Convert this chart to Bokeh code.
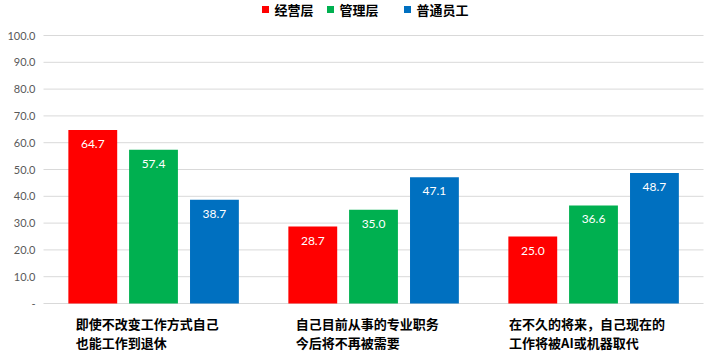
from bokeh.plotting import figure
from bokeh.models import ColumnDataSource, Range1d
from bokeh.transform import dodge
from bokeh.core.properties import value
from bokeh.embed import file_html
from bokeh.resources import INLINE

# ---- data ----
categories = [
    ["即使不改变工作方式自己", "也能工作到退休"],
    ["自己目前从事的专业职务", "今后将不再被需要"],
    ["在不久的将来，自己现在的", "工作将被AI或机器取代"],
]
series = ["经营层", "管理层", "普通员工"]
exec_vals = [64.7, 28.7, 25.0]
mgr_vals = [57.4, 35.0, 36.6]
staff_vals = [38.7, 47.1, 48.7]
colors = ["#FF0000", "#00B050", "#0070C0"]
y_ticks = [0, 10, 20, 30, 40, 50, 60, 70, 80, 90, 100]
y_tick_labels = ["-" if t == 0 else f"{t:.1f}" for t in y_ticks]

CJK = "Noto Sans CJK SC"
NUM = "Lato"

# ---- layout geometry (pixels) ----
W, H = 710, 357
PL, PR, PT, PB = 43, 703, 35, 303      # plot area edges
ncat = len(categories)
cat_px = (PR - PL) / ncat
ypx = 100 / (PB - PT)                   # data units per pixel

x_range = Range1d(-PL / cat_px, ncat + (W - PR) / cat_px)
y_range = Range1d(-(H - PB) * ypx, 100 + PT * ypx)

p = figure(width=W, height=H, output_backend="svg", toolbar_location=None,
           x_range=x_range, y_range=y_range, min_border=0)
p.outline_line_color = None
p.axis.visible = False
p.grid.visible = False
p.background_fill_color = "white"
p.border_fill_color = "white"

# gridlines and y tick labels
p.segment(x0=[0] * len(y_ticks), x1=[ncat] * len(y_ticks), y0=y_ticks, y1=y_ticks,
          line_color="#d9d9d9", line_width=1)
p.text(x=[0] * len(y_ticks), y=y_ticks, text=y_tick_labels, x_offset=-8,
       text_align="right", text_baseline="middle", text_color="#595959",
       text_font=value(NUM), text_font_size="11px")

# bars
xs = [i + 0.5 for i in range(ncat)]
src = ColumnDataSource(dict(x=xs, a=exec_vals, b=mgr_vals, c=staff_vals,
                            ta=[f"{v:.1f}" for v in exec_vals],
                            tb=[f"{v:.1f}" for v in mgr_vals],
                            tc=[f"{v:.1f}" for v in staff_vals]))
offsets = [-0.276, 0.0, 0.277]
for key, tkey, off, col in zip(["a", "b", "c"], ["ta", "tb", "tc"], offsets, colors):
    p.vbar(x=dodge("x", off, range=p.x_range), top=key, width=0.222, bottom=0,
           source=src, fill_color=col, line_color=None)
    p.text(x=dodge("x", off, range=p.x_range), y=key, text=tkey, source=src,
           text_color="white", text_font=value(NUM), text_font_size="12px",
           text_align="center", text_baseline="middle", y_offset=14)

# category labels: block centred under the group, lines left aligned
lx, ly, lt, lo, lyo = [], [], [], [], []
for i, lines in enumerate(categories):
    maxlen = max(len(s) for s in lines)
    for j, line in enumerate(lines):
        lx.append(i + 0.5)
        ly.append(0)
        lt.append(line)
        lo.append(-maxlen * 6.7 - 4)
        lyo.append(20 + j * 19)
p.text(x=lx, y=ly, text=lt, x_offset=lo, y_offset=lyo,
       text_font=value(CJK), text_font_style="bold", text_font_size="13px",
       text_color="#000000", text_align="left", text_baseline="middle")

# legend (manual, above the plot area)
leg_px = [265, 330, 407]
leg_y = 100 + (PT - 9) * ypx
leg_x = [(x - PL) / cat_px for x in leg_px]
p.scatter(x=leg_x, y=[leg_y] * 3, marker="square", size=7, fill_color=colors, line_color=None)
p.text(x=leg_x, y=[leg_y] * 3, text=series, x_offset=9,
       text_font=value(CJK), text_font_style="bold", text_font_size="13px",
       text_color="#000000", text_align="left", text_baseline="middle")

open("out.html", "w").write(file_html(p, INLINE))
